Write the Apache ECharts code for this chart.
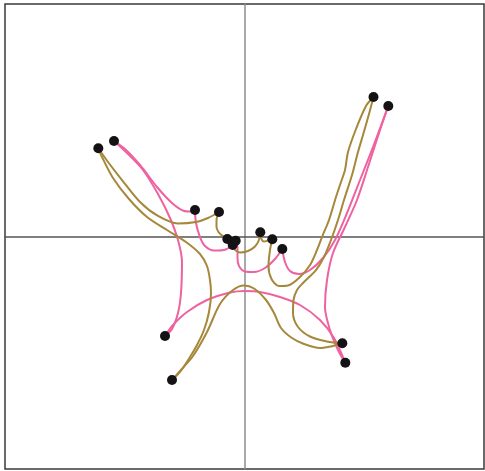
<!DOCTYPE html>
<html>
<head>
<meta charset="utf-8">
<script src="https://cdn.jsdelivr.net/npm/echarts@6/dist/echarts.min.js"></script>
<style>html,body{margin:0;padding:0;background:#fff;}#c{width:485px;height:471px;}</style>
</head>
<body>
<div id="c"></div>
<script>
// Axis extents
const xRange = [-10, 10];
const yRange = [-10, 10];

// Vertices (dots)
const pinkVertices = {
  B: [-5.449, 4.108], C: [-2.067, 1.140], G: [-0.493, -0.366], F: [-0.367, -0.181],
  J: [1.578, -0.538], L: [6.004, 5.613], N: [4.209, -5.428], O: [-3.319, -4.280]
};
const oliveVertices = {
  A: [-6.104, 3.794], D: [-1.065, 1.054], E: [-0.718, -0.108], H: [0.660, 0.181],
  I: [1.161, -0.120], K: [5.386, 6.000], M: [4.084, -4.594], P: [-3.027, -6.172]
};

// Edge paths (intermediate points)
const pinkEdges = [
  ['B', 'C', [[-4.990, 3.763], [-4.363, 3.075], [-3.653, 2.129], [-3.027, 1.441], [-2.526, 1.097], [-2.276, 1.075]]],
  ['C', 'G', [[-2.025, 0.581], [-1.858, -0.022], [-1.649, -0.409], [-1.273, -0.602], [-0.856, -0.581]]],
  ['G', 'F', []],
  ['F', 'J', [[-0.292, -0.495], [-0.292, -0.925], [-0.230, -1.269], [0.021, -1.505], [0.397, -1.527], [0.856, -1.355], [1.273, -0.968]]],
  ['J', 'L', [[1.691, -1.097], [1.900, -1.484], [2.276, -1.613], [2.735, -1.441], [3.278, -0.925], [3.779, -0.151], [4.280, 1.011], [4.823, 2.430], [5.365, 3.849], [5.741, 4.882]]],
  ['L', 'N', [[5.658, 4.581], [5.157, 2.989], [4.697, 1.570], [4.196, 0.409], [3.695, -0.710], [3.445, -1.871], [3.361, -3.032], [3.570, -4.022], [3.904, -4.882]]],
  ['N', 'O', [[3.737, -4.366], [3.152, -3.591], [2.317, -2.946], [1.482, -2.602], [0.647, -2.387], [0.021, -2.344], [-0.605, -2.409], [-1.566, -2.731], [-2.401, -3.247], [-2.985, -3.806]]],
  ['O', 'B', [[-3.027, -3.978], [-2.777, -3.290], [-2.652, -2.430], [-2.610, -1.097], [-2.777, -0.151], [-3.111, 0.796], [-3.612, 1.828], [-4.238, 2.860], [-4.906, 3.591]]]
];
const oliveEdges = [
  ['A', 'D', [[-5.699, 3.204], [-5.115, 2.430], [-4.363, 1.484], [-3.612, 0.882], [-2.777, 0.559], [-2.025, 0.624], [-1.524, 0.796]]],
  ['D', 'E', [[-1.169, 0.710], [-1.169, 0.409], [-1.086, 0.194], [-0.939, 0.043]]],
  ['E', 'H', [[-0.605, -0.323], [-0.459, -0.516], [-0.188, -0.688], [0.146, -0.624], [0.438, -0.430], [0.605, -0.151]]],
  ['H', 'I', [[0.710, -0.108], [0.814, -0.215], [0.981, -0.172]]],
  ['I', 'K', [[1.065, -0.581], [1.002, -1.269], [1.127, -1.828], [1.441, -2.129], [1.816, -2.108], [2.317, -1.742], [2.735, -1.226], [3.027, -0.581], [3.236, -0.022], [3.528, 0.710], [3.820, 1.699], [4.029, 2.344], [4.196, 2.860], [4.322, 3.634], [4.656, 4.624], [5.073, 5.613]]],
  ['K', 'M', [[5.198, 5.269], [4.948, 4.366], [4.739, 3.634], [4.489, 2.645], [4.154, 1.570], [3.904, 0.710], [3.612, -0.151], [3.319, -0.882], [2.985, -1.441], [2.443, -2.000], [2.192, -2.301], [2.046, -2.731], [2.025, -3.290], [2.234, -3.892], [2.735, -4.301], [3.445, -4.516]]],
  ['M', 'P', [[3.695, -4.710], [3.152, -4.796], [2.484, -4.624], [1.983, -4.366], [1.524, -3.935], [1.232, -3.290], [0.898, -2.731], [0.397, -2.237], [-0.021, -2.108], [-0.480, -2.301], [-1.023, -2.903], [-1.566, -4.108], [-2.150, -5.140], [-2.693, -5.785]]],
  ['P', 'A', [[-2.693, -5.828], [-2.276, -5.183], [-1.983, -4.667], [-1.691, -4.022], [-1.482, -3.247], [-1.399, -2.430], [-1.441, -1.871], [-1.566, -1.269], [-1.858, -0.753], [-2.443, -0.237], [-3.236, 0.280], [-4.071, 0.839], [-4.823, 1.613], [-5.491, 2.516], [-5.950, 3.419]]]
];

const pinkColor = '#ef62a0';
const oliveColor = '#a5883a';

function edgeSeries(edges, verts, color, z) {
  return edges.map(function (e) {
    return {
      type: 'line',
      data: [verts[e[0]]].concat(e[2], [verts[e[1]]]),
      smooth: 0.3,
      showSymbol: false,
      symbol: 'none',
      silent: true,
      z: z,
      lineStyle: { color: color, width: 2 }
    };
  });
}

const series = []
  .concat(edgeSeries(pinkEdges, pinkVertices, pinkColor, 2))
  .concat(edgeSeries(oliveEdges, oliveVertices, oliveColor, 3))
  .concat([{
    type: 'scatter',
    data: Object.values(pinkVertices).concat(Object.values(oliveVertices)),
    symbolSize: 10,
    itemStyle: { color: '#141214', opacity: 1 },
    z: 10,
    silent: true
  }]);

const chart = echarts.init(document.getElementById('c'), null, { renderer: 'canvas' });
chart.setOption({
  animation: false,
  grid: { left: 5, right: 1, top: 4, bottom: 2, show: true, borderColor: '#3a3a3a', borderWidth: 1.5 },
  xAxis: {
    type: 'value', min: xRange[0], max: xRange[1],
    axisLine: { show: true, onZero: true, lineStyle: { color: '#555555', width: 1.5 } },
    axisTick: { show: false }, axisLabel: { show: false }, splitLine: { show: false }
  },
  yAxis: {
    type: 'value', min: yRange[0], max: yRange[1],
    axisLine: { show: true, onZero: true, lineStyle: { color: '#8c8c8c', width: 1.5 } },
    axisTick: { show: false }, axisLabel: { show: false }, splitLine: { show: false }
  },
  series: series
});
</script>
</body>
</html>
